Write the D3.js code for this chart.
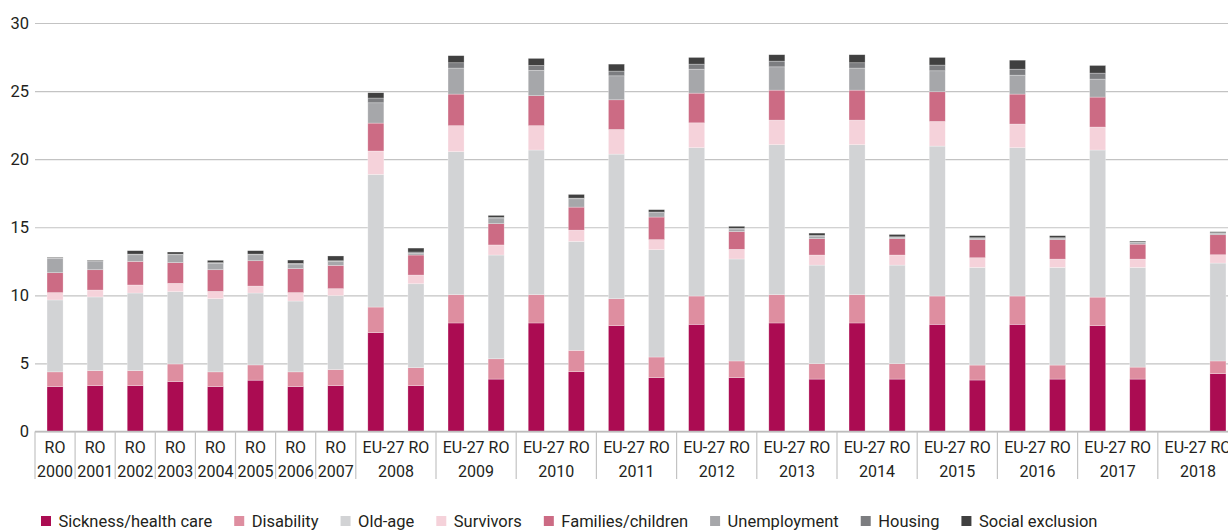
<!DOCTYPE html>
<html>
<head>
<meta charset="utf-8">
<script src="https://cdn.jsdelivr.net/npm/d3@7"></script>
<style>
  html, body { margin: 0; padding: 0; background: #fff; }
  svg { display: block; }
  .tick text, .lbl { fill: #231f20; }
</style>
</head>
<body>
<svg id="chart" width="1228" height="532"></svg>
<script>
// Social protection expenditure by function, % of GDP (EU-27 vs RO)
const years = ['2000','2001','2002','2003','2004','2005','2006','2007','2008','2009',
               '2010','2011','2012','2013','2014','2015','2016','2017','2018'];
const areasSingle = ['RO'];
const areasPair = ['EU-27', 'RO'];

const seriesNames = ['Sickness/health care','Disability','Old-age','Survivors',
                     'Families/children','Unemployment','Housing','Social exclusion'];
const seriesColors = ['#ab0c52','#de8ea0','#d2d3d5','#f5d2da','#cc6b84','#a6a7aa','#7c7d80','#404040'];
const yTicks = [0, 5, 10, 15, 20, 25, 30];

// One value per bar: RO 2000–2007, then EU-27 / RO pairs 2008–2018
const sickness =     [3.30,3.37,3.37,3.67,3.30,3.77,3.30,3.37, 7.26,3.37, 7.97,3.85, 7.97,4.39, 7.77,3.95, 7.87,3.95, 7.97,3.85, 7.97,3.85, 7.87,3.78, 7.87,3.85, 7.77,3.85, null,4.25];
const disability =   [1.08,1.10,1.10,1.29,1.08,1.12,1.08,1.18, 1.88,1.32, 2.08,1.49, 2.08,1.57, 1.98,1.52, 2.08,1.23, 2.08,1.13, 2.08,1.13, 2.08,1.10, 2.08,1.03, 2.10,0.88, null,0.93];
const oldAge =       [5.28,5.41,5.70,5.31,5.38,5.28,5.20,5.43, 9.74,6.16,10.50,7.62,10.62,8.00,10.62,7.88,10.89,7.49,11.01,7.24,11.01,7.24,11.01,7.17,10.89,7.17,10.80,7.32, null,7.19];
const survivors =    [0.54,0.51,0.59,0.61,0.53,0.51,0.62,0.51, 1.72,0.64, 1.91,0.74, 1.79,0.83, 1.81,0.74, 1.83,0.71, 1.81,0.74, 1.81,0.74, 1.81,0.71, 1.74,0.61, 1.69,0.61, null,0.61];
const families =     [1.46,1.49,1.73,1.52,1.59,1.86,1.76,1.71, 2.05,1.47, 2.32,1.56, 2.20,1.69, 2.18,1.66, 2.18,1.30, 2.20,1.20, 2.20,1.20, 2.18,1.33, 2.20,1.43, 2.20,1.10, null,1.47];
const unemployment = [1.03,0.59,0.49,0.58,0.47,0.44,0.34,0.29, 1.49,0.12, 1.91,0.42, 1.86,0.61, 1.76,0.32, 1.76,0.19, 1.71,0.19, 1.62,0.10, 1.54,0.09, 1.39,0.09, 1.32,0.10, null,0.10];
const housing =      [0.05,0.07,0.05,0.05,0.05,0.05,0.05,0.05, 0.35,0.10, 0.39,0.04, 0.36,0.05, 0.35,0.05, 0.37,0.05, 0.42,0.05, 0.39,0.04, 0.42,0.05, 0.44,0.05, 0.44,0.05, null,0.05];
const socialExcl =   [0.05,0.05,0.25,0.15,0.17,0.25,0.24,0.35, 0.39,0.29, 0.52,0.15, 0.52,0.27, 0.51,0.17, 0.49,0.15, 0.47,0.17, 0.59,0.17, 0.56,0.15, 0.66,0.15, 0.56,0.07, null,0.07];

const seriesValues = [sickness, disability, oldAge, survivors, families, unemployment, housing, socialExcl];

// Build the bar slots (year + area)
const groups = years.map(y => ({ year: y, areas: (+y < 2008 ? areasSingle : areasPair) }));
const slots = [];
groups.forEach(g => g.areas.forEach(a => slots.push({ year: g.year, area: a, key: a + ' ' + g.year })));

const rows = slots.map((s, i) => {
  const r = { key: s.key, year: s.year, area: s.area };
  seriesNames.forEach((n, k) => { r[n] = seriesValues[k][i]; });
  return r;
});

const svg = d3.select('#chart');
const W = 1228;
const left = 35, step = 40.1;
const FONT = 'Roboto, "Liberation Sans", Arial, sans-serif';

const x = d3.scaleBand()
  .domain(slots.map(d => d.key))
  .range([left, left + slots.length * step])
  .paddingInner(0.6)
  .paddingOuter(0.3);

const y = d3.scaleLinear().domain([0, 30]).range([431.5, 23]);

// Gridlines and value labels
const yAxis = svg.append('g')
  .attr('transform', `translate(${left},0)`)
  .call(d3.axisLeft(y).tickValues(yTicks).tickSize(-(W - left)).tickPadding(6).tickFormat(d3.format('d')));
yAxis.select('.domain').remove();
yAxis.selectAll('.tick line').attr('stroke', '#c3c3c3').attr('stroke-width', 1.2);
yAxis.selectAll('.tick text')
  .attr('font-family', FONT).attr('font-size', 16.5);

// Stacked bars
const stack = d3.stack().keys(seriesNames).value((d, k) => d[k] == null ? 0 : d[k]);
const layers = stack(rows);

svg.append('g').selectAll('g')
  .data(layers)
  .join('g')
  .attr('fill', (d, i) => seriesColors[i])
  .selectAll('rect')
  .data(d => d.filter(p => p[1] > p[0]))
  .join('rect')
  .attr('x', p => x(p.data.key))
  .attr('width', x.bandwidth())
  .attr('y', p => y(p[1]))
  .attr('height', p => y(p[0]) - y(p[1]))
  .attr('stroke', '#ffffff')
  .attr('stroke-opacity', 0.45)
  .attr('stroke-width', 0.6);

// Category axis: baseline, group dividers and two-row labels
const axisG = svg.append('g');
const y0 = y(0);
axisG.append('line')
  .attr('x1', left).attr('x2', left + slots.length * step)
  .attr('y1', y0).attr('y2', y0)
  .attr('stroke', '#bdbdbd').attr('stroke-width', 1.5);

const groupSpans = groups.map(g => {
  const keys = g.areas.map(a => a + ' ' + g.year);
  const x0 = x(keys[0]) - x.step() * x.paddingInner() / 2;
  const x1 = x(keys[keys.length - 1]) + x.bandwidth() + x.step() * x.paddingInner() / 2;
  return { g, x0, x1 };
});

const dividerXs = [groupSpans[0].x0].concat(groupSpans.map(s => s.x1));
axisG.selectAll('line.div')
  .data(dividerXs)
  .join('line')
  .attr('class', 'div')
  .attr('x1', d => d).attr('x2', d => d)
  .attr('y1', y0).attr('y2', 479)
  .attr('stroke', '#c3c3c3').attr('stroke-width', 1.2);

axisG.selectAll('text.area')
  .data(groupSpans)
  .join('text')
  .attr('class', 'lbl area')
  .attr('x', s => (s.x0 + s.x1) / 2)
  .attr('y', 453)
  .attr('text-anchor', 'middle')
  .attr('font-family', FONT).attr('font-size', 16)
  .text(s => s.g.areas.join(' '));

axisG.selectAll('text.year')
  .data(groupSpans)
  .join('text')
  .attr('class', 'lbl year')
  .attr('x', s => (s.x0 + s.x1) / 2)
  .attr('y', 477)
  .attr('text-anchor', 'middle')
  .attr('font-family', FONT).attr('font-size', 16)
  .text(s => s.g.year);

// Legend
const legend = svg.append('g').attr('transform', 'translate(41,521)');
let cx = 0;
seriesNames.forEach((n, i) => {
  const item = legend.append('g').attr('transform', `translate(${cx},0)`);
  item.append('rect').attr('x', 0).attr('y', -5).attr('width', 10).attr('height', 10).attr('fill', seriesColors[i]);
  const t = item.append('text')
    .attr('class', 'lbl')
    .attr('x', 17.5).attr('y', 0).attr('dy', '0.35em')
    .attr('font-family', FONT).attr('font-size', 16.5)
    .text(n);
  cx += 17.5 + t.node().getComputedTextLength() + 22;
});
</script>
</body>
</html>
